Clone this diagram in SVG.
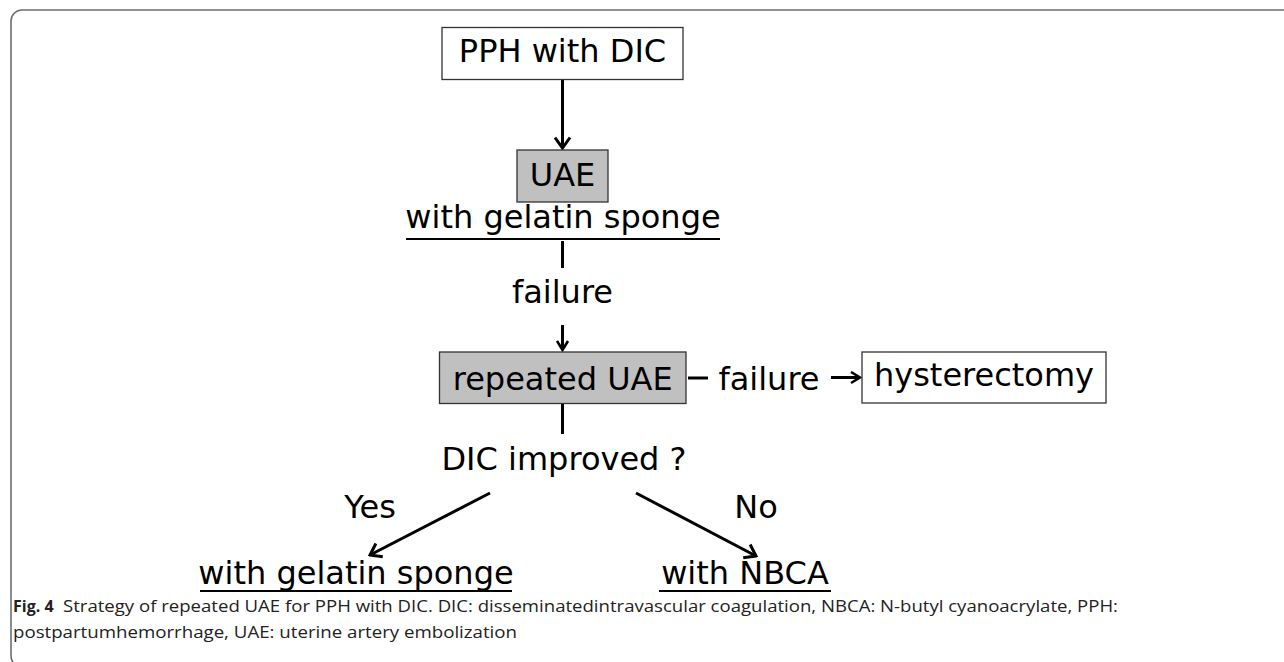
<svg xmlns="http://www.w3.org/2000/svg" width="1284" height="662" viewBox="0 0 1284 662">
  <style>
    .t { font-family: "DejaVu Sans", Verdana, sans-serif; font-size: 32px; fill: #000; text-anchor: middle; }
    .box { fill: #fff; stroke: #333; stroke-width: 1.3; }
    .gbox { fill: #c0c0c0; stroke: #333; stroke-width: 1.3; }
    .ln { stroke: #000; stroke-width: 3; fill: none; }
    .ul { stroke: #000; stroke-width: 2; }
    .cap { font-family: "Open Sans", "Liberation Sans", sans-serif; font-size: 16px; fill: #222; }
  </style>
  <defs>
    <marker id="ah" viewBox="0 0 14 18" refX="12" refY="9" markerWidth="14" markerHeight="18" markerUnits="userSpaceOnUse" orient="auto">
      <path d="M1.5,1.5 L12,9 L1.5,16.5" fill="none" stroke="#000" stroke-width="3"/>
    </marker>
    <marker id="ahs" viewBox="0 0 12 14" refX="10.5" refY="7" markerWidth="12" markerHeight="14" markerUnits="userSpaceOnUse" orient="auto">
      <path d="M1.5,1.5 L10.5,7 L1.5,12.5" fill="none" stroke="#000" stroke-width="2.6"/>
    </marker>
  </defs>

  <rect x="11" y="10" width="1320" height="657" rx="11" ry="11" fill="none" stroke="#6e6e6e" stroke-width="1.6"/>

  <g id="connectors">
    <line class="ln" x1="562.5" y1="80" x2="562.5" y2="148" marker-end="url(#ah)"/>
    <line class="ln" x1="562.5" y1="241" x2="562.5" y2="268"/>
    <line class="ln" x1="562.5" y1="325" x2="562.5" y2="350" marker-end="url(#ahs)"/>
    <line class="ln" x1="562.5" y1="404" x2="562.5" y2="434"/>
    <line class="ln" x1="688" y1="378" x2="708" y2="378"/>
    <line class="ln" x1="831" y1="377.5" x2="860" y2="377.5" marker-end="url(#ahs)"/>
    <line class="ln" x1="490" y1="493" x2="370" y2="555" marker-end="url(#ah)"/>
    <line class="ln" x1="636" y1="493" x2="756" y2="556" marker-end="url(#ah)"/>
  </g>

  <g id="node-pph">
    <rect class="box" x="442" y="27.5" width="241" height="52"/>
    <text class="t" x="562.5" y="62">PPH with DIC</text>
  </g>

  <g id="node-uae">
    <rect class="gbox" x="517" y="150" width="91" height="52"/>
    <text class="t" x="562.5" y="186">UAE</text>
  </g>

  <g id="label-gelatin-top">
    <text class="t" x="563" y="228">with gelatin sponge</text>
    <line class="ul" x1="406" y1="239" x2="720" y2="239"/>
  </g>

  <g id="label-failure-1">
    <text class="t" x="562.5" y="303">failure</text>
  </g>

  <g id="node-repeated">
    <rect class="gbox" x="439.5" y="352" width="246.5" height="51.5"/>
    <text class="t" x="562.7" y="390">repeated UAE</text>
  </g>

  <g id="label-failure-2">
    <text class="t" x="769" y="390">failure</text>
  </g>

  <g id="node-hysterectomy">
    <rect class="box" x="862" y="352" width="244" height="51"/>
    <text class="t" x="984" y="386">hysterectomy</text>
  </g>

  <g id="label-dic">
    <text class="t" x="564" y="470">DIC improved ?</text>
  </g>

  <g id="label-yes">
    <text class="t" x="370" y="518">Yes</text>
  </g>
  <g id="label-no">
    <text class="t" x="756" y="518">No</text>
  </g>

  <g id="node-gelatin-bottom">
    <text class="t" x="356" y="584">with gelatin sponge</text>
    <line class="ul" x1="200" y1="591" x2="512" y2="591"/>
  </g>

  <g id="node-nbca">
    <text class="t" x="745" y="584">with NBCA</text>
    <line class="ul" x1="659" y1="591" x2="831" y2="591"/>
  </g>

  <g id="caption">
    <text class="cap" x="13" y="612" font-weight="bold">Fig. 4</text>
    <text class="cap" x="63" y="612" textLength="1055" lengthAdjust="spacingAndGlyphs">Strategy of repeated UAE for PPH with DIC. DIC: disseminatedintravascular coagulation, NBCA: N-butyl cyanoacrylate, PPH:</text>
    <text class="cap" x="13" y="638" textLength="504" lengthAdjust="spacingAndGlyphs">postpartumhemorrhage, UAE: uterine artery embolization</text>
  </g>
</svg>
